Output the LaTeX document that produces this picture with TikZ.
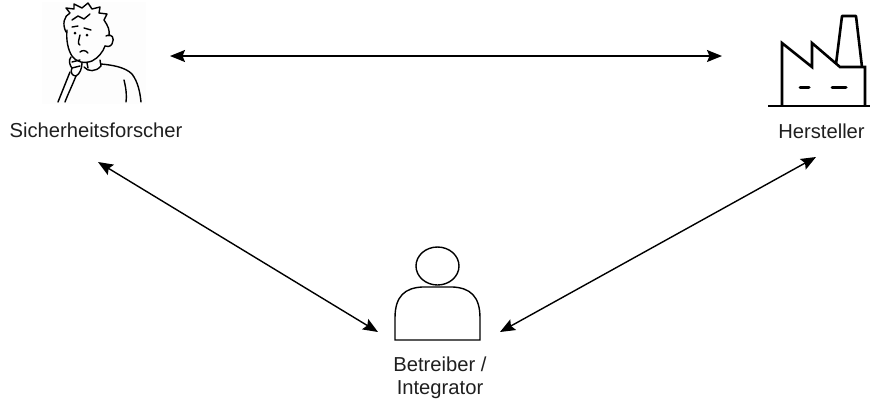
\documentclass[tikz,border=0pt]{standalone}
\usepackage{fontspec}
\setmainfont{Liberation Sans}
\usetikzlibrary{arrows.meta}
\begin{document}
\begin{tikzpicture}[x=1pt,y=-1pt,
  icon/.style={line width=2.6pt,line join=miter,line cap=butt},
  sketch/.style={line width=1.4pt,line join=round,line cap=round},
  lbl/.style={font=\fontsize{20.2}{23}\selectfont,align=center,inner sep=0pt,text=black!88},
  link/.style={line width=1.4pt,{Stealth[length=15pt,width=12pt,inset=2.5pt]}-{Stealth[length=15pt,width=12pt,inset=2.5pt]}}]
\useasboundingbox (0,0) rectangle (871,400);

% --- researcher sketch ---
\fill[black!0.8] (42,2) rectangle (146,104);
\begin{scope}[sketch]
  % hair
  \draw (66,32) .. controls (62,24) and (64,16) .. (70,13)
        -- (66,8) -- (74,9) -- (74,4) -- (82,8) -- (88,3) -- (92,9)
        -- (100,7) -- (99,13) -- (107,14) -- (104,20)
        .. controls (108,26) and (110,30) .. (109,36);
  \draw (72,20) -- (78,16) -- (84,19) -- (90,14);
  % face outline
  \draw (67,30) .. controls (66,40) and (68,50) .. (72,56)
        .. controls (76,62) and (84,64) .. (92,61)
        .. controls (98,58) and (103,52) .. (105,46);
  % ear
  \draw (106,36) .. controls (112,33) and (115,38) .. (112,44)
        .. controls (110,47) and (107,47) .. (105,46);
  % brows, eyes, nose, mouth
  \draw (72,27) -- (78,26);
  \draw (84,28) -- (91,30);
  \fill (75,33) circle (1.5pt);
  \fill (87,35) circle (1.5pt);
  \draw (80,35) .. controls (79,40) and (77,44) .. (80,45);
  \draw (80,52) .. controls (82,50) and (86,50) .. (88,53);
  % hand at the chin
  \draw (71,57) .. controls (68,60) and (70,66) .. (72,68)
        .. controls (70,72) and (72,76) .. (76,76)
        .. controls (80,74) and (82,68) .. (82,63);
  \draw (72,62) -- (80,60);
  \draw (72,68) -- (80,66);
  % raised arm
  \draw (70,72) .. controls (66,82) and (62,92) .. (58,102);
  \draw (76,76) .. controls (72,86) and (68,94) .. (65,102);
  % neck and collar
  \draw (87,63) -- (88,68);
  \draw (84,67) .. controls (88,72) and (96,72) .. (101,66);
  \draw (100,60) -- (101,66);
  % shoulders and sleeve
  \draw (101,64) .. controls (112,65) and (125,67) .. (132,74)
        .. controls (138,82) and (140,92) .. (141,102);
  \draw (124,80) .. controls (126,88) and (127,96) .. (126,102);
\end{scope}
\node[minimum width=104pt,minimum height=102pt] (researcher) at (94,53) {};
\node[lbl,anchor=base] (researcherlabel) at (96,137) {Sicherheitsforscher};

% --- manufacturer (factory) ---
\begin{scope}[icon]
  \draw (768,106) -- (870,106);
  \draw (782,106) -- (782,43) -- (812,67) -- (812,43) -- (840,67) -- (865,67) -- (865,106);
  \draw[line join=round] (836,64) -- (842,16) -- (856,16) -- (862,67);
  \draw[line cap=round,line width=3pt] (800,87) -- (809,87);
  \draw[line cap=round,line width=3pt] (832,87) -- (846,87);
\end{scope}
\node[minimum width=104pt,minimum height=92pt] (factory) at (819,60) {};
\node[lbl,anchor=base] (factorylabel) at (821.5,138) {Hersteller};

% --- operator / integrator (person) ---
\begin{scope}[line width=1.4pt]
  \draw (395,340) -- (395,318) .. controls (395,296) and (405,288) .. (422,287)
        -- (453,287) .. controls (470,288) and (480,296) .. (480,318) -- (480,340) -- cycle;
  \draw[fill=white] (437.5,266) ellipse (21.5pt and 19pt);
\end{scope}
\node[minimum width=88pt,minimum height=96pt] (operator) at (437.5,294) {};
\node[lbl,anchor=north] (operatorlabel) at (440,356.5) {Betreiber /\\Integrator};

% --- relations ---
\coordinate (rtop) at (170,56);
\coordinate (ftop) at (722,56);
\coordinate (rlow) at (98,162);
\coordinate (oleft) at (378,332);
\coordinate (oright) at (500,332);
\coordinate (flow) at (816,157);
\draw[link] (rtop) -- (ftop);
\draw[link] (rlow) -- (oleft);
\draw[link] (oright) -- (flow);
\end{tikzpicture}
\end{document}
